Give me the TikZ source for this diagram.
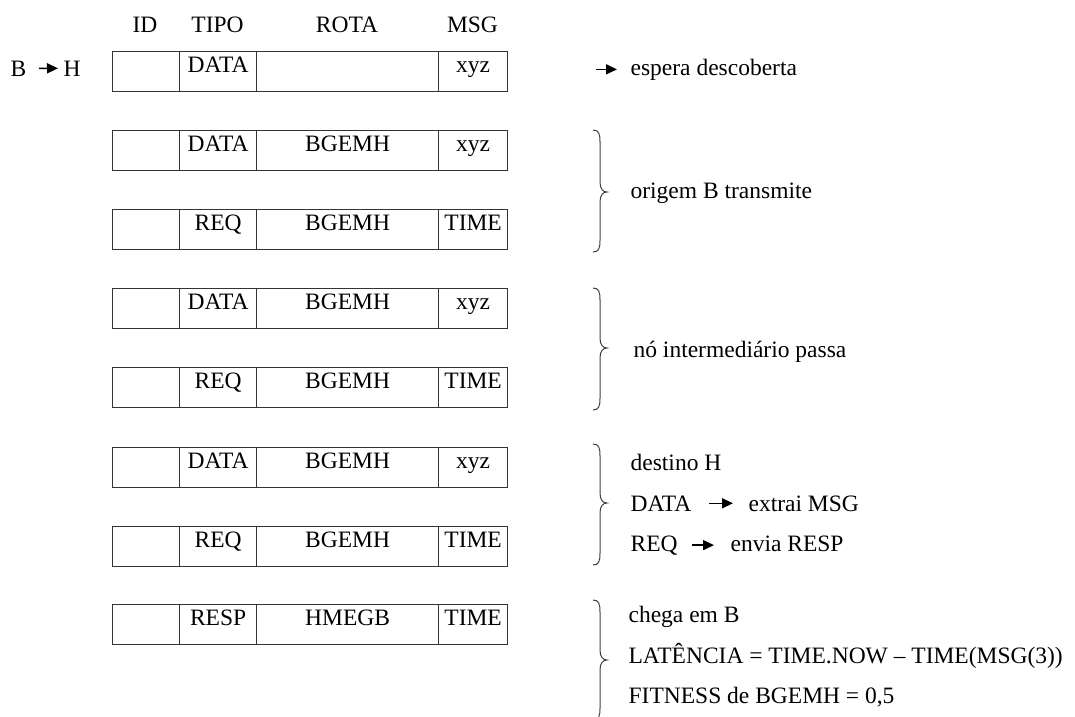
\documentclass[tikz,border=0pt]{standalone}
\usepackage{fontspec}
\setmainfont{Liberation Serif}
\usetikzlibrary{arrows.meta}
\newcommand\pktrow[5]{%
  \node[cell, minimum width=67pt] (#1id) at (112,#2) {};
  \node[cell, minimum width=77pt] (#1tp) at (179,#2) {};
  \node[cell, minimum width=182pt] (#1rt) at (256,#2) {};
  \node[cell, minimum width=69pt] (#1ms) at (438,#2) {};
  \node[txt] (#1tpt) at ([yshift=-21pt]#1tp.north) {#3};
  \node[txt] (#1rtt) at ([yshift=-21pt]#1rt.north) {#4};
  \node[txt] (#1mst) at ([yshift=-21pt]#1ms.north) {#5};
}
\newcommand\curlybr[3]{%
  \draw[brc] (593,#1) .. controls (599,#1) and (600,{#1+4}) .. (600,{#1+12})
    -- (600,{#2-10}) .. controls (600,{#2-3}) and (603,#2) .. (607,#2)
    .. controls (603,#2) and (600,{#2+3}) .. (600,{#2+10})
    -- (600,{#3-12}) .. controls (600,{#3-4}) and (599,#3) .. (593,#3);
}
\begin{document}
\begin{tikzpicture}[x=1pt,y=-1pt, line width=1.2pt,
  cell/.style={draw=black!80, minimum height=40pt, inner sep=0pt, anchor=north west},
  txt/.style={inner sep=0pt, anchor=base, font=\fontsize{23.5}{28}\selectfont},
  ltxt/.style={inner sep=0pt, anchor=base west, font=\fontsize{23.5}{28}\selectfont},
  arr/.style={-{Triangle[length=11pt,width=10pt]}, line width=1.5pt},
  brc/.style={line width=1pt, draw=black!75}]
\useasboundingbox[fill=white] (0,0) rectangle (1075,716);
% headers
\node[txt] (hid) at (145,32) {ID};
\node[txt] (htp) at (217.5,32) {TIPO};
\node[txt] (hrt) at (347,32) {ROTA};
\node[txt] (hms) at (472.5,32) {MSG};
% rows
\pktrow{ra}{51}{DATA}{}{xyz}
\pktrow{rb}{130}{DATA}{BGEMH}{xyz}
\pktrow{rc}{209}{REQ}{BGEMH}{TIME}
\pktrow{rd}{288}{DATA}{BGEMH}{xyz}
\pktrow{re}{367}{REQ}{BGEMH}{TIME}
\pktrow{rf}{447}{DATA}{BGEMH}{xyz}
\pktrow{rg}{526}{REQ}{BGEMH}{TIME}
\pktrow{rh}{604}{RESP}{HMEGB}{TIME}
% B -> H
\node[ltxt] (bsrc) at (10,76) {B};
\node[ltxt] (bdst) at (63,76) {H};
\draw[arr, shorten <=12pt, shorten >=5pt] (bsrc.east) -- (bdst.west);
% espera
\node[ltxt] (espera) at (630,75) {espera descoberta};
\draw[arr, shorten <=88pt, shorten >=13pt] (rams.east |- espera.west) -- (espera.west);
% braces
\curlybr{130}{192}{252}
\curlybr{288}{348}{410}
\curlybr{444}{503}{565}
\curlybr{600}{660}{720}
% right texts
\node[ltxt] (orig) at (630,198) {origem B transmite};
\node[ltxt] (inter) at (633,357) {nó intermediário passa};
\node[ltxt] (dest) at (630,470) {destino H};
\node[ltxt] (dA) at (630,511) {DATA};
\node[ltxt] (dB) at (748,511) {extrai MSG};
\draw[arr, shorten <=17pt, shorten >=15pt] (dA.east) -- (dA.east -| dB.west);
\node[ltxt] (qA) at (630,551) {REQ};
\node[ltxt] (qB) at (730,551) {envia RESP};
\draw[arr, shorten <=14pt, shorten >=16pt] (qA.east) -- (qA.east -| qB.west);
\node[ltxt] (chega) at (628,622) {chega em B};
\node[ltxt] (lat) at (628,663) {LATÊNCIA = TIME.NOW – TIME(MSG(3))};
\node[ltxt] (fit) at (628,703) {FITNESS de BGEMH = 0,5};
\end{tikzpicture}
\end{document}
